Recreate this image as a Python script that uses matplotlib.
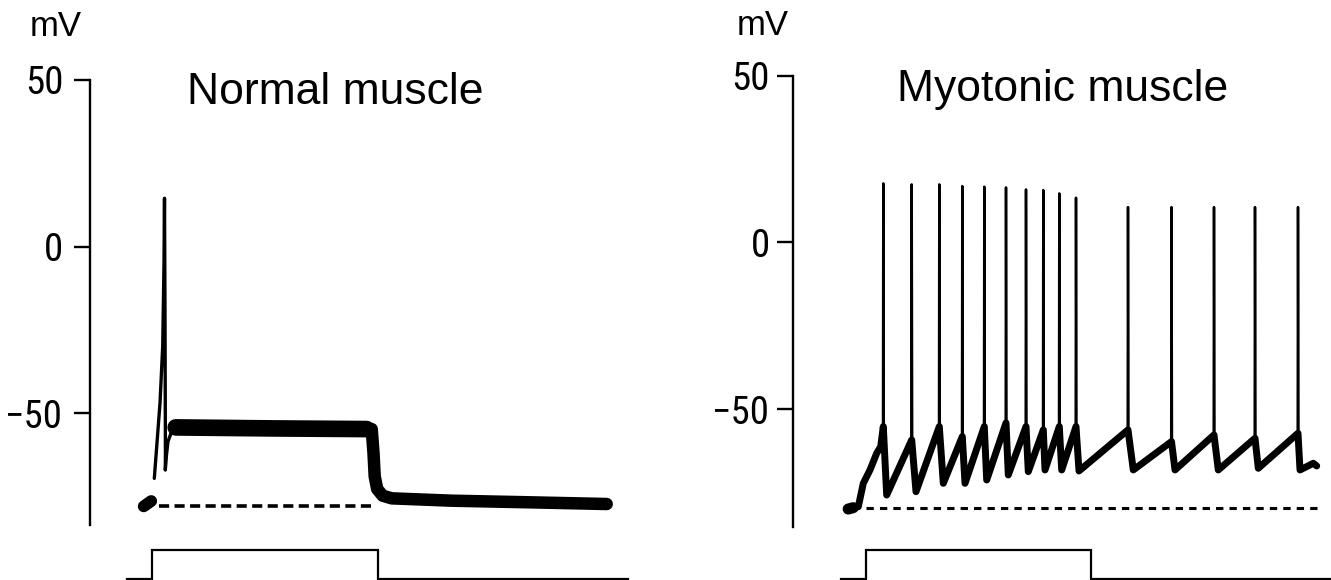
import matplotlib
matplotlib.use("Agg")
import matplotlib.pyplot as plt
from matplotlib import font_manager

W, H, DPI = 1331, 580, 100

# ---------------- Data (time in ms from stimulus onset, voltage in mV) ----------------
# Normal muscle
normal_pre_t = [-8.0, -0.5]
normal_pre_v = [-78.0, -76.4]
normal_spike_t = [2.6, 8.3, 11.0, 12.3, 12.8, 13.3, 13.6, 13.7, 13.6, 14.8, 16.3, 20.0, 26.0]
normal_spike_v = [-69.6, -47.0, -30.0, -5.0, 14.5, -20.0, -50.0, -62.0, -67.1, -62.5, -58.5, -55.5, -54.5]
normal_plateau_t = [24.0, 120.0, 215.0]
normal_plateau_v = [-54.3, -54.6, -54.8]
normal_after_t = [220.0, 221.8, 223.0, 225.5, 231.0, 240.0, 300.0, 380.0, 455.0]
normal_after_v = [-54.8, -62.0, -69.0, -72.8, -74.8, -75.6, -76.3, -76.8, -77.3]
normal_rest_t = [7.3, 221.3]
normal_rest_v = [-78.0, -78.0]
normal_stim_t = [-24.7, 0.0, 0.0, 226.0, 226.0, 476.3]
normal_stim_level = [0, 0, 1, 1, 0, 0]

# Myotonic muscle
myo_blob_t = [-17.5, -12.5]
myo_blob_v = [-79.8, -79.4]
myo_pre_t = [-12.5, -7.4, -2.4, 4.3, 11.0, 15.0]
myo_pre_v = [-79.4, -79.1, -72.1, -68.1, -63.1, -61.1]
myo_spike_t = [17.6, 46.0, 73.6, 96.6, 118.6, 140.3, 160.3, 177.6, 193.6, 210.3,
               262.3, 305.8, 348.3, 389.3, 432.3]
myo_threshold_v = [-55.1, -59.1, -55.1, -58.1, -55.1, -54.0, -55.1, -56.1, -55.1, -55.1,
                   -56.1, -59.6, -57.6, -58.6, -57.1]
myo_peak_v = [17.7, 17.4, 17.4, 16.9, 16.7, 16.5, 15.9, 15.7, 14.7, 13.4,
              10.6, 10.6, 10.6, 10.6, 10.6]
myo_trough_t = [21.0, 50.3, 77.6, 99.3, 121.0, 142.6, 162.6, 179.3, 196.0, 213.3,
                267.6, 309.3, 352.6, 392.6, 434.3]
myo_trough_v = [-75.6, -74.6, -72.1, -72.1, -71.1, -69.6, -68.6, -68.1, -68.1, -68.4,
                -68.1, -68.1, -68.1, -67.6, -68.1]
myo_tail_t = [447.6, 451.0]
myo_tail_v = [-66.1, -66.9]
myo_rest_t = [0.0, 455.0]
myo_rest_v = [-79.6, -79.6]
myo_stim_t = [-25.0, 0.0, 0.0, 225.3, 225.3, 470.0]
myo_stim_level = [0, 0, 1, 1, 0, 0]

yticks = [50, 0, -50]
ytick_labels = ["50", "0", "\u221250"]
titles = ["Normal muscle", "Myotonic muscle"]
unit_label = "mV"

# ---------------- Figure ----------------
fig = plt.figure(figsize=(W / DPI, H / DPI), dpi=DPI, facecolor="white")

available = {f.name for f in font_manager.fontManager.ttflist}
TICK_FONT, TICK_SIZE = ["Liberation Sans", "DejaVu Sans"], 23
for name, size in [("Liberation Sans Narrow", 28), ("Roboto Condensed", 28),
                   ("Archivo Narrow", 28), ("Sofia Sans Condensed", 30)]:
    if name in available:
        TICK_FONT, TICK_SIZE = [name, "Liberation Sans", "DejaVu Sans"], size
        break
TEXT_FONT = ["Liberation Sans", "DejaVu Sans"]


def px_axes(left, top, right, bottom):
    return fig.add_axes([left / W, 1 - bottom / H, (right - left) / W, (bottom - top) / H])


def style_trace_axes(ax, pad):
    for s in ["top", "right", "bottom"]:
        ax.spines[s].set_visible(False)
    ax.spines["left"].set_linewidth(1.7)
    ax.set_xticks([])
    ax.set_yticks(yticks, labels=ytick_labels, fontfamily=TICK_FONT, fontsize=TICK_SIZE)
    ax.tick_params(axis="y", direction="out", length=11.5, width=1.7, pad=pad)
    ax.patch.set_alpha(0)


def stim_axes(left, right, t0, t1, st, sl):
    ax = px_axes(left, 540, right, 580)
    ax.set_xlim(t0, t1)
    ax.set_ylim(-0.0351, 1.3684)
    ax.axis("off")
    ax.plot(st, sl, color="black", lw=1.6, solid_joinstyle="miter", clip_on=False)
    return ax


# ---- Left panel: normal muscle ----
axL = px_axes(90, 80, 640, 525)
axL.set_xlim(-61.7, 488.3)
axL.set_ylim(-83.6, 50)
style_trace_axes(axL, pad=7.7)
axL.plot(normal_pre_t, normal_pre_v, color="black", lw=8.5, solid_capstyle="round")
axL.plot(normal_rest_t, normal_rest_v, color="black", lw=2.6, dashes=(2.8, 1.5))
axL.plot(normal_spike_t, normal_spike_v, color="black", lw=2.4,
         solid_capstyle="round", solid_joinstyle="round")
axL.plot(normal_plateau_t, normal_plateau_v, color="black", lw=12,
         solid_capstyle="round")
axL.plot(normal_after_t, normal_after_v, color="black", lw=9,
         solid_capstyle="round", solid_joinstyle="round")
stim_axes(90, 640, -61.7, 488.3, normal_stim_t, normal_stim_level)

# ---- Right panel: myotonic muscle ----
axR = px_axes(793, 75.5, 1331, 527)
axR.set_xlim(-72.7, 465.3)
axR.set_ylim(-85.18, 50)
style_trace_axes(axR, pad=5.0)
axR.plot(myo_blob_t, myo_blob_v, color="black", lw=8, solid_capstyle="round")
axR.plot(myo_rest_t, myo_rest_v, color="black", lw=2.2, dashes=(2.4, 2.0))

slow_t = list(myo_pre_t)
slow_v = list(myo_pre_v)
for ts, vth, tt, vt in zip(myo_spike_t, myo_threshold_v, myo_trough_t, myo_trough_v):
    slow_t += [ts, tt]
    slow_v += [vth, vt]
slow_t += myo_tail_t
slow_v += myo_tail_v
axR.plot(slow_t, slow_v, color="black", lw=5, solid_capstyle="round",
         solid_joinstyle="round")
for ts, vth, vp in zip(myo_spike_t, myo_threshold_v, myo_peak_v):
    axR.plot([ts - 0.3, ts, ts + 0.5], [vth, vp, vth - 4], color="black", lw=1.8,
             solid_joinstyle="round", solid_capstyle="round")
stim_axes(793, 1331, -72.7, 465.3, myo_stim_t, myo_stim_level)

# ---- Texts ----
fig.text(55.5 / W, 1 - 36 / H, unit_label, ha="center", va="baseline",
         fontsize=25, family=TEXT_FONT)
fig.text(763 / W, 1 - 35 / H, unit_label, ha="center", va="baseline",
         fontsize=25, family=TEXT_FONT)
fig.text(335 / W, 1 - 104.5 / H, titles[0], ha="center", va="baseline",
         fontsize=32, family=TEXT_FONT)
fig.text(1063 / W, 1 - 101 / H, titles[1], ha="center", va="baseline",
         fontsize=32, family=TEXT_FONT)

fig.savefig("out.png", dpi=DPI, facecolor="white")
